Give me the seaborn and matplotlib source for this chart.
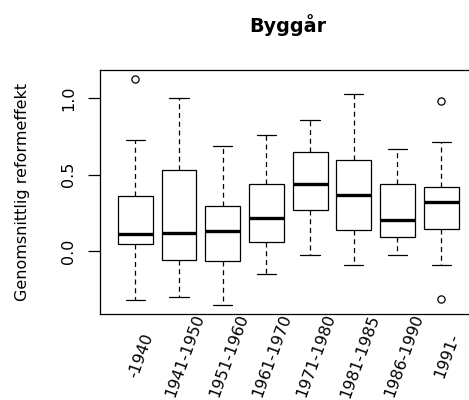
import numpy as np
import pandas as pd
import matplotlib
matplotlib.use("Agg")
import matplotlib.pyplot as plt
import matplotlib.transforms as mtransforms
import seaborn as sns

# ---- data (five-number summaries + outliers) ----
categories = ["-1940", "1941-1950", "1951-1960", "1961-1970",
              "1971-1980", "1981-1985", "1986-1990", "1991-"]
whisker_low = [-0.318, -0.296, -0.350, -0.146, -0.022, -0.085, -0.022, -0.091]
q1          = [0.048, -0.054, -0.063, 0.061, 0.272, 0.139, 0.093, 0.148]
median      = [0.111, 0.117, 0.133, 0.220, 0.437, 0.365, 0.202, 0.320]
q3          = [0.359, 0.533, 0.296, 0.437, 0.648, 0.594, 0.437, 0.420]
whisker_high = [0.724, 0.996, 0.685, 0.755, 0.857, 1.022, 0.670, 0.711]
outliers = [[1.122], [], [], [], [], [], [], [0.980, -0.311]]
yticks = [0.0, 0.5, 1.0]
ytick_labels = ["0.0", "0.5", "1.0"]
title = "Byggår"
ylabel = "Genomsnittlig reformeffekt"

# Build a long table whose quartiles/whiskers reproduce the summaries
rows = []
for i, cat in enumerate(categories):
    lows = [o for o in outliers[i] if o < median[i]]
    highs = [o for o in outliers[i] if o > median[i]]
    vals = (lows + [whisker_low[i]] + [q1[i]] * (2 - len(lows)) +
            [median[i]] * 3 + [q3[i]] * (2 - len(highs)) +
            [whisker_high[i]] + highs)
    for v in vals:
        rows.append({"cat": cat, "val": v})
df = pd.DataFrame(rows)

sns.set_theme(style="white")
plt.rcParams["font.family"] = ["DejaVu Sans"]

W, H, DPI = 469, 400, 100
fig = plt.figure(figsize=(W / DPI, H / DPI), dpi=DPI)
left_px, right_px, top_px, bottom_px = 99.5, 477.0, 70.0, 314.3
ax = fig.add_axes([left_px / W, 1 - bottom_px / H,
                   (right_px - left_px) / W, (bottom_px - top_px) / H])

lw = 0.9
sns.boxplot(data=df, x="cat", y="val", order=categories, ax=ax,
            color="white", linecolor="black", linewidth=lw, width=0.8,
            fliersize=5, whis=1.5, capwidths=0.44,
            medianprops={"linewidth": 2.4, "color": "black"},
            whiskerprops={"linestyle": (0, (4, 3)), "color": "black"},
            capprops={"color": "black"},
            flierprops={"marker": "o", "markerfacecolor": "none",
                        "markeredgecolor": "black", "markeredgewidth": lw,
                        "markersize": 5.2})

ax.set_xlim(-0.82, 7.82)
ax.set_ylim(-0.409, 1.181)
ax.set_yticks(yticks)
ax.set_yticklabels(ytick_labels, rotation=90, va="center", fontsize=11.5)
ax.tick_params(axis="y", left=True, length=8.6, width=lw, color="black",
               pad=8, labelcolor="black")
ax.tick_params(axis="x", length=0, pad=30)
ax.set_xlabel("")
ax.set_ylabel(ylabel, fontsize=11.5, color="black")
ax.yaxis.set_label_coords(-0.185, 0.5)

ax.set_xticks(range(len(categories)))
ax.set_xticklabels(categories, fontsize=11.5, color="black")
offset = mtransforms.ScaledTranslation(6 / DPI, 0, fig.dpi_scale_trans)
for lbl in ax.get_xticklabels():
    lbl.set_rotation(70)
    lbl.set_ha("center")
    lbl.set_va("center")
    lbl.set_rotation_mode("anchor")
    lbl.set_transform(lbl.get_transform() + offset)

for s in ax.spines.values():
    s.set_visible(True)
    s.set_color("black")
    s.set_linewidth(lw)

ax.set_title(title, fontsize=13.8, fontweight="bold", pad=27, color="black")

fig.savefig("out.png", dpi=DPI)
